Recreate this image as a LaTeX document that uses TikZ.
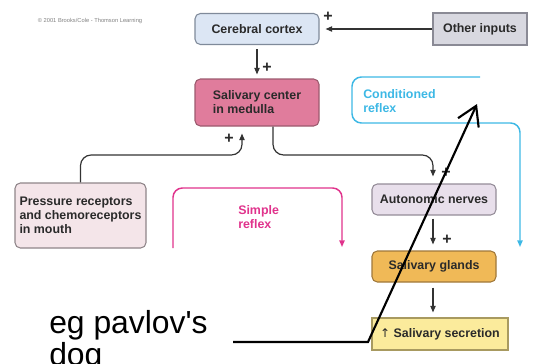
\documentclass[tikz,border=0pt]{standalone}
\usepackage{fontspec}
\setmainfont{Liberation Sans}
\newfontfamily\dejavu{DejaVu Sans}
\usetikzlibrary{arrows.meta}
\definecolor{txt}{HTML}{2A2A2A}
\definecolor{arr}{HTML}{333333}
\definecolor{cortexfill}{HTML}{DCE6F4}
\definecolor{cortexdraw}{HTML}{7F8A9A}
\definecolor{otherfill}{HTML}{D8D8E0}
\definecolor{otherdraw}{HTML}{8A8A95}
\definecolor{centerfill}{HTML}{E07C9C}
\definecolor{centerdraw}{HTML}{9C5A6E}
\definecolor{pressfill}{HTML}{F4E5E9}
\definecolor{pressdraw}{HTML}{8F8589}
\definecolor{autofill}{HTML}{E8DFEB}
\definecolor{autodraw}{HTML}{948C98}
\definecolor{glandfill}{HTML}{F0B957}
\definecolor{glanddraw}{HTML}{A0783A}
\definecolor{secfill}{HTML}{FBEB9C}
\definecolor{secdraw}{HTML}{A89A60}
\definecolor{mag}{HTML}{E0338C}
\definecolor{cyn}{HTML}{3DB8E5}
\tikzset{
  boxtext/.style={font=\fontsize{9.3}{10.5}\selectfont\bfseries, text=txt},
  box/.style={boxtext, draw, line width=0.8pt, rounded corners=4pt, inner sep=0pt, align=left},
  sqbox/.style={box, rounded corners=0pt},
  conn/.style={draw=arr, line width=0.9pt, -{Triangle[length=5pt,width=4pt]}},
  plus/.style={font=\fontsize{12}{12}\selectfont\bfseries, text=txt, inner sep=0pt},
  loopline/.style={line width=1.1pt, rounded corners=7pt},
}
\begin{document}
\begin{tikzpicture}[x=0.75pt,y=-0.75pt]
\useasboundingbox (0,0) rectangle (533,364);
% copyright
\node[font=\fontsize{4.3}{5}\selectfont, text=gray] (copy) at (90,21) {\textcopyright\ 2001 Brooks/Cole - Thomson Learning};
% boxes
\node[box, fill=cortexfill, draw=cortexdraw, minimum width=124*0.75pt, minimum height=31*0.75pt] (cortex) at (257,29) {Cerebral cortex};
\node[sqbox, fill=otherfill, draw=otherdraw, minimum width=94*0.75pt, minimum height=32*0.75pt] (other) at (480,29) {Other inputs};
\node[box, fill=centerfill, draw=centerdraw, minimum width=124*0.75pt, minimum height=47*0.75pt] (center) at (257,102.5) {Salivary center\\in medulla};
\node[box, fill=pressfill, draw=pressdraw, minimum width=131*0.75pt, minimum height=65*0.75pt] (press) at (80.5,215.5) {Pressure receptors\\and chemoreceptors\\in mouth};
\node[box, fill=autofill, draw=autodraw, minimum width=124*0.75pt, minimum height=31*0.75pt] (auto) at (434,199.5) {Autonomic nerves};
\node[box, fill=glandfill, draw=glanddraw, minimum width=124*0.75pt, minimum height=31*0.75pt] (gland) at (434,266.5) {Salivary glands};
\node[sqbox, fill=secfill, draw=secdraw, minimum width=136*0.75pt, minimum height=32*0.75pt] (sec) at (440,334) {{\dejavu\mdseries\fontsize{9}{10}\selectfont ↑} Salivary secretion};
% connectors
\draw[conn] (other.west) -- ([xshift=6*0.75pt]cortex.east);
\draw[conn] ([yshift=-4*0.75pt]cortex.south) -- ([yshift=4*0.75pt]center.north);
\draw[conn, rounded corners=8pt] (press.north) -- (press.north |- 0,155) -- (242,155) -- ([yshift=-7*0.75pt]center.south -| 242,0);
\draw[conn, rounded corners=8pt] (center.south -| 273,0) -- (273,155) -- (433,155) -- ([yshift=7*0.75pt]auto.north -| 433,0);
\draw[conn] ([yshift=-3*0.75pt]auto.south -| 433,0) -- ([yshift=6*0.75pt]gland.north -| 433,0);
\draw[conn] ([yshift=-5*0.75pt]gland.south -| 433,0) -- ([yshift=5*0.75pt]sec.north -| 433,0);
% plus signs
\node[plus] (p1) at (328,17) {+};
\node[plus] (p2) at (267,68) {+};
\node[plus] (p3) at (229,139) {+};
\node[plus] (p4) at (446,173) {+};
\node[plus] (p5) at (447,240) {+};
% simple reflex
\coordinate (ms) at (173,248);
\coordinate (me) at (342,247);
\draw[loopline, draw=mag, -{Triangle[length=5pt,width=4pt]}] (ms) -- (173,188) -- (342,188) -- (me);
\node[font=\fontsize{9.3}{10.5}\selectfont\bfseries, text=mag, align=left, anchor=west, inner sep=0pt] (simple) at (238,217) {Simple\\reflex};
% conditioned reflex
\coordinate (cs) at (480,77);
\coordinate (ce) at (520,247);
\draw[loopline, draw=cyn, -{Triangle[length=5pt,width=4pt]}] (cs) -- (352,77) -- (352,123) -- (520,123) -- (ce);
\node[font=\fontsize{9.3}{10.5}\selectfont\bfseries, text=cyn, align=left, anchor=west, inner sep=0pt] (cond) at (363,101) {Conditioned\\reflex};
% pavlov annotation
\node[font=\fontsize{23.9}{21}\selectfont, anchor=base west, inner sep=0pt, align=left] (pav) at (49,365) {eg pavlov\textquotesingle s\\dog};
\coordinate (pa) at (233,342);
\coordinate (pb) at (368,342);
\coordinate (pc) at (477,104);
\draw[line width=1.6pt, -{Straight Barb[length=14pt,width=17pt,line width=1.6pt]}] (pa) -- (pb) -- (pc);
\end{tikzpicture}
\end{document}
